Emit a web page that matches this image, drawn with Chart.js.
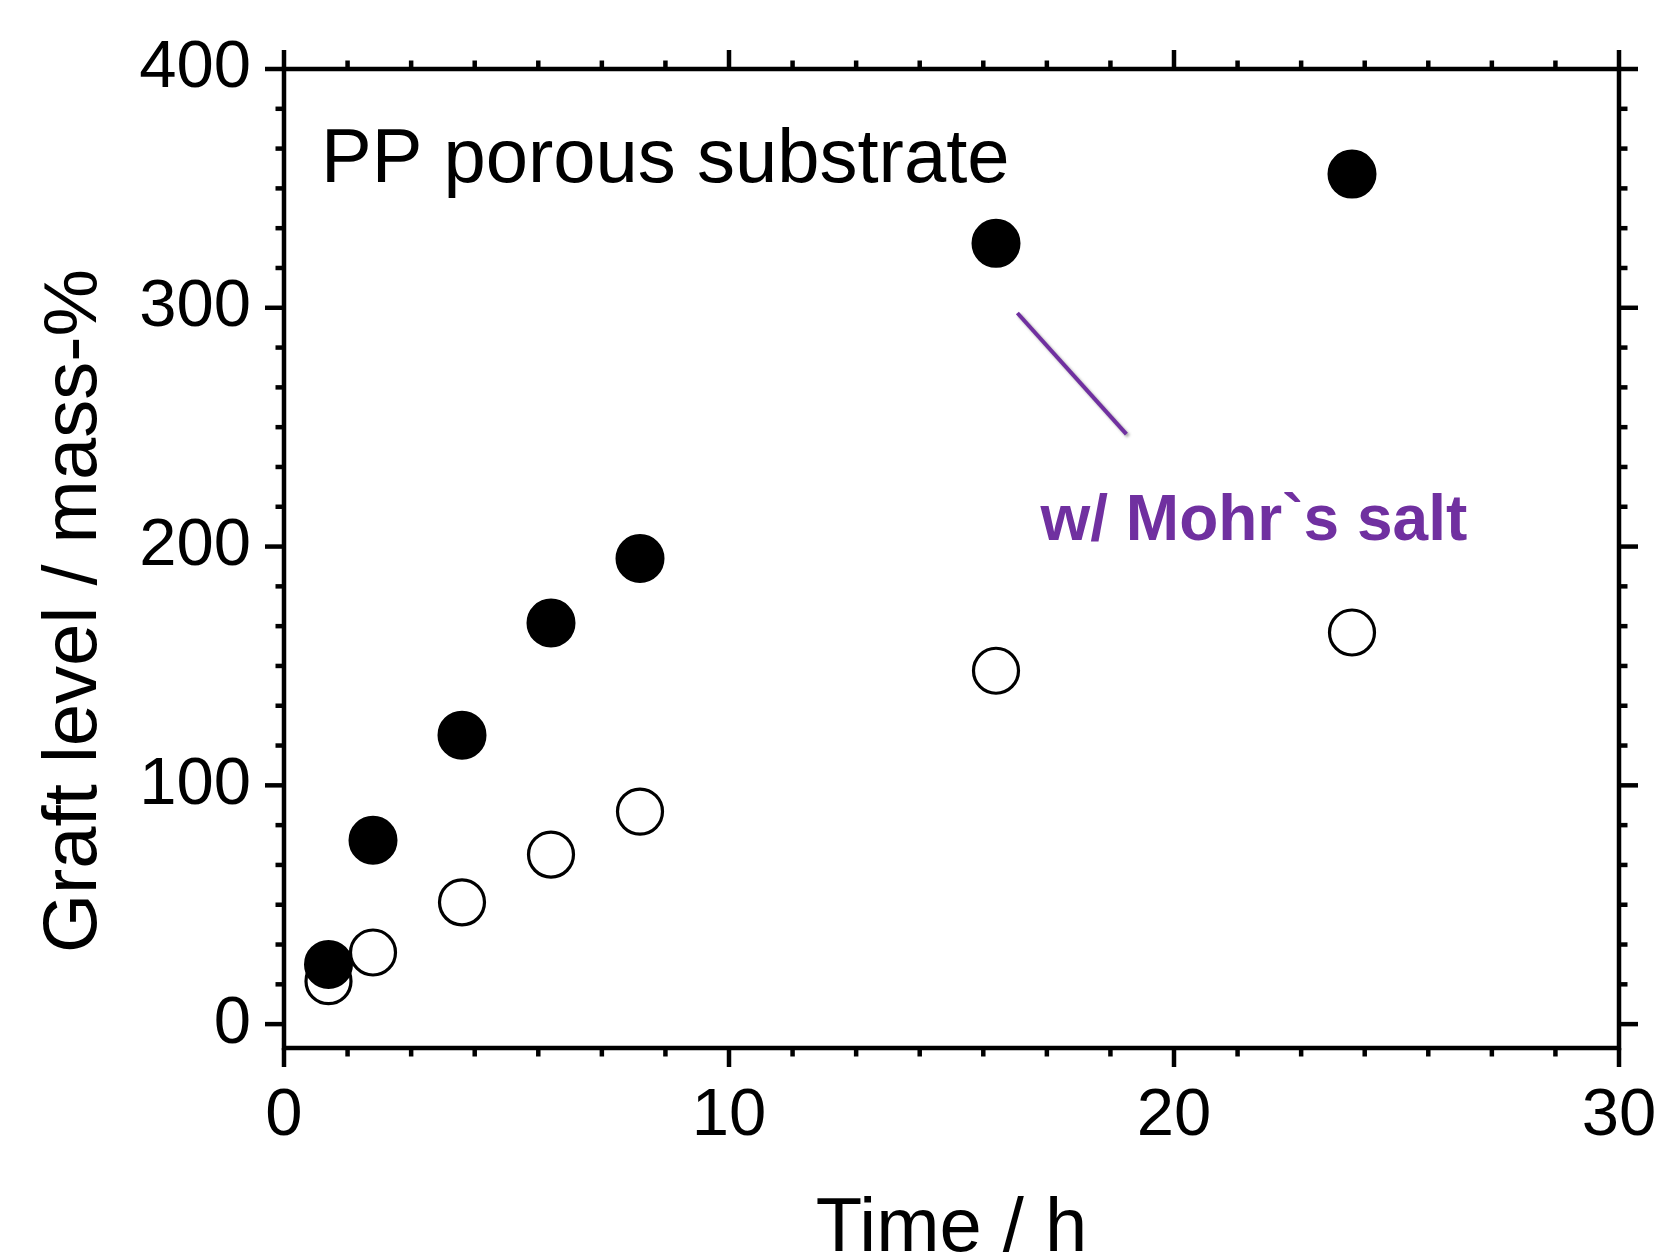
<!DOCTYPE html>
<html><head><meta charset="utf-8">
<script src="https://cdn.jsdelivr.net/npm/chart.js@4/dist/chart.umd.min.js"></script>
<style>html,body{margin:0;padding:0;background:#fff;}canvas{display:block;}</style>
</head><body>
<canvas id="c" width="1660" height="1258"></canvas>
<script>
// ---- data ----
const timeH = [1, 2, 4, 6, 8, 16, 24];
const graftWithMohr = [25, 77, 121, 168, 195, 327, 356];
const graftWithout = [18, 30, 51, 71, 89, 148, 164];
const xTicks = [0, 10, 20, 30];
const yTicks = [0, 100, 200, 300, 400];
const xMinorPerMajor = 7;
const yMinorPerMajor = 6;
const xTitle = 'Time / h';
const yTitle = 'Graft level / mass-%';
const noteSubstrate = 'PP porous substrate';
const noteMohr = 'w/ Mohr`s salt';
// annotation anchors in data units
const substrateAt = {x: 0.83, y: 352.5};
const mohrAt = {x: 17.0, y: 202.7};
const pointerLine = [{x: 16.48, y: 297.8}, {x: 18.93, y: 247.1}];

const FONT = '"Liberation Sans", Arial, sans-serif';
const PURPLE = '#7030A0';

const framePlugin = {
  id: 'frame',
  beforeDatasetsDraw(chart) {
    const {ctx, chartArea: a, scales: {x, y}} = chart;
    ctx.save();
    ctx.strokeStyle = '#000';
    ctx.lineWidth = 4.5;
    ctx.lineCap = 'square';
    ctx.strokeRect(a.left, a.top, a.right - a.left, a.bottom - a.top);
    ctx.lineCap = 'butt';
    const MAJ = 19, MIN = 8.5;
    const tick = (x1, y1, x2, y2) => { ctx.beginPath(); ctx.moveTo(x1, y1); ctx.lineTo(x2, y2); ctx.stroke(); };
    // x ticks
    for (let i = 0; i < xTicks.length; i++) {
      const px = x.getPixelForValue(xTicks[i]);
      tick(px, a.bottom, px, a.bottom + MAJ);
      tick(px, a.top, px, a.top - MAJ);
      if (i < xTicks.length - 1) {
        const step = (xTicks[i + 1] - xTicks[i]) / xMinorPerMajor;
        for (let k = 1; k < xMinorPerMajor; k++) {
          const mx = x.getPixelForValue(xTicks[i] + k * step);
          tick(mx, a.bottom, mx, a.bottom + MIN);
          tick(mx, a.top, mx, a.top - MIN);
        }
      }
    }
    // y ticks
    for (let i = 0; i < yTicks.length; i++) {
      const py = y.getPixelForValue(yTicks[i]);
      tick(a.left, py, a.left - MAJ, py);
      tick(a.right, py, a.right + MAJ, py);
      if (i < yTicks.length - 1) {
        const step = (yTicks[i + 1] - yTicks[i]) / yMinorPerMajor;
        for (let k = 1; k < yMinorPerMajor; k++) {
          const my = y.getPixelForValue(yTicks[i] + k * step);
          tick(a.left, my, a.left - MIN, my);
          tick(a.right, my, a.right + MIN, my);
        }
      }
    }
    // axis titles
    ctx.fillStyle = '#000';
    ctx.font = '76px ' + FONT;
    ctx.textAlign = 'center';
    ctx.textBaseline = 'alphabetic';
    ctx.fillText(xTitle, (a.left + a.right) / 2, 1251);
    ctx.save();
    ctx.translate(96, 611);
    ctx.rotate(-Math.PI / 2);
    ctx.fillText(yTitle, 0, 0);
    ctx.restore();
    // annotations
    ctx.textAlign = 'left';
    ctx.font = '76px ' + FONT;
    ctx.fillText(noteSubstrate, x.getPixelForValue(substrateAt.x), y.getPixelForValue(substrateAt.y));
    ctx.fillStyle = PURPLE;
    ctx.font = 'bold 64px ' + FONT;
    ctx.fillText(noteMohr, x.getPixelForValue(mohrAt.x), y.getPixelForValue(mohrAt.y));
    ctx.save();
    ctx.shadowColor = 'rgba(0,0,0,0.35)';
    ctx.shadowBlur = 3;
    ctx.shadowOffsetX = 2;
    ctx.shadowOffsetY = 2;
    ctx.strokeStyle = PURPLE;
    ctx.lineWidth = 4;
    ctx.beginPath();
    ctx.moveTo(x.getPixelForValue(pointerLine[0].x), y.getPixelForValue(pointerLine[0].y));
    ctx.lineTo(x.getPixelForValue(pointerLine[1].x), y.getPixelForValue(pointerLine[1].y));
    ctx.stroke();
    ctx.restore();
    ctx.restore();
  }
};

const tickFont = {family: FONT, size: 67};
new Chart(document.getElementById('c'), {
  type: 'scatter',
  data: {
    datasets: [
      {
        label: 'w/ Mohr`s salt',
        data: timeH.map((t, i) => ({x: t, y: graftWithMohr[i]})),
        pointRadius: 23, pointHoverRadius: 23,
        pointBackgroundColor: '#000', pointBorderColor: '#000', pointBorderWidth: 3,
        showLine: false
      },
      {
        label: 'w/o Mohr`s salt',
        data: timeH.map((t, i) => ({x: t, y: graftWithout[i]})),
        pointRadius: 22.5, pointHoverRadius: 22.5,
        pointBackgroundColor: '#fff', pointBorderColor: '#000', pointBorderWidth: 3.2,
        showLine: false
      }
    ]
  },
  options: {
    responsive: false, animation: false, devicePixelRatio: 1,
    layout: {padding: {top: 69, right: 41, left: 0, bottom: 0}},
    plugins: {legend: {display: false}, tooltip: {enabled: false}},
    scales: {
      x: {
        type: 'linear', min: 0, max: 30,
        afterBuildTicks: s => { s.ticks = xTicks.map(v => ({value: v})); },
        afterFit: s => { s.height = 210; s.paddingLeft = 0; s.paddingRight = 0; },
        grid: {display: true, drawOnChartArea: false, color: 'rgba(0,0,0,0)', tickLength: 19},
        border: {display: false},
        ticks: {font: tickFont, color: '#000', padding: 9, maxRotation: 0, autoSkip: false}
      },
      y: {
        type: 'linear', min: -10, max: 400,
        afterBuildTicks: s => { s.ticks = yTicks.map(v => ({value: v})); },
        afterFit: s => { s.width = 284; s.paddingTop = 0; s.paddingBottom = 0; },
        grid: {display: true, drawOnChartArea: false, color: 'rgba(0,0,0,0)', tickLength: 19},
        border: {display: false},
        ticks: {font: tickFont, color: '#000', padding: 14, autoSkip: false}
      }
    }
  },
  plugins: [framePlugin]
});
</script>
</body></html>
